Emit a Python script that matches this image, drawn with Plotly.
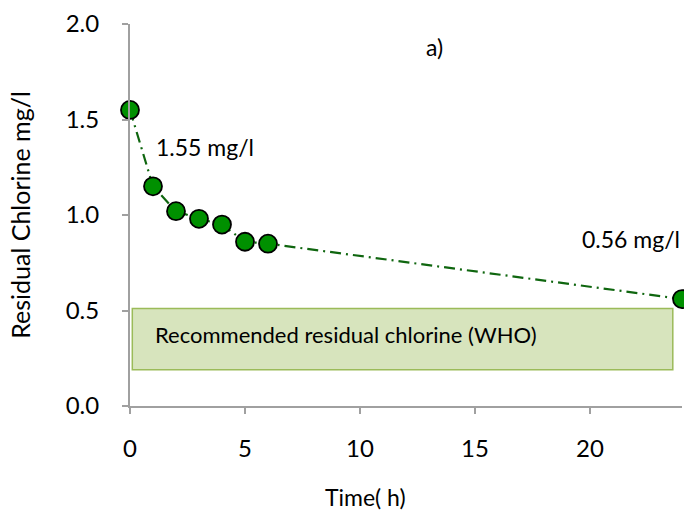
import plotly.graph_objects as go

time_h = [0, 1, 2, 3, 4, 5, 6, 24]
chlorine = [1.55, 1.15, 1.02, 0.98, 0.95, 0.86, 0.85, 0.56]
who_range = [0.2, 0.5]
x_ticks = [0, 5, 10, 15, 20]
y_ticks = [0.0, 0.5, 1.0, 1.5, 2.0]

FONT = "Lato"
fig = go.Figure()

fig.add_shape(type="rect", x0=0.1, x1=23.6, y0=who_range[0] - 0.01, y1=who_range[1] + 0.01,
              fillcolor="#d7e4bd", line=dict(color="#9bbb59", width=1.5), layer="below")

fig.add_trace(go.Scatter(
    x=time_h, y=chlorine, mode="lines+markers",
    line=dict(color="#0f660f", width=2.2, dash="11px,5px,2px,5px"),
    marker=dict(size=18, color="#009000", line=dict(color="black", width=1.8)),
    cliponaxis=False, showlegend=False))

fig.add_annotation(x=13.26, y=1.88, text="a)", showarrow=False, font=dict(size=23, color="black"))
fig.add_annotation(x=1.05, y=1.356, text="1.55 mg/l", showarrow=False, xanchor="left",
                   font=dict(size=23, color="black"))
fig.add_annotation(x=24, y=0.872, text="0.56 mg/l", showarrow=False, xanchor="right",
                   font=dict(size=23, color="black"))
fig.add_annotation(x=1.0, y=0.375, text="Recommended residual chlorine (WHO)", showarrow=False,
                   xanchor="left", font=dict(size=22, color="black"))
fig.add_annotation(xref="paper", yref="paper", x=0.4275, y=-0.238, text="Time( h)",
                   showarrow=False, xanchor="center", yanchor="middle",
                   font=dict(size=23, color="black"))

fig.update_layout(
    width=684, height=519,
    margin=dict(l=130, r=2, t=24, b=113),
    plot_bgcolor="white", paper_bgcolor="white",
    font=dict(family=FONT, color="black"),
)
fig.update_xaxes(range=[0, 24], tickvals=x_ticks, showgrid=False, zeroline=False,
                 showline=True, linecolor="#a0a0a0", linewidth=2,
                 ticks="outside", ticklen=6, tickcolor="#a0a0a0", tickwidth=2,
                 ticklabelstandoff=14, tickfont=dict(size=24))
fig.update_yaxes(range=[0, 2.0], tickvals=y_ticks, tickformat=".1f", showgrid=False, zeroline=False,
                 showline=True, linecolor="#a0a0a0", linewidth=2,
                 ticks="outside", ticklen=6, tickcolor="#a0a0a0", tickwidth=2,
                 ticklabelstandoff=18,
                 tickfont=dict(size=24), title=dict(text="Residual Chlorine mg/l", font=dict(size=25), standoff=28))

fig.write_html("out.html", config={"displayModeBar": False},
               post_script="document.body.style.margin='0';document.body.style.overflow='hidden';")
